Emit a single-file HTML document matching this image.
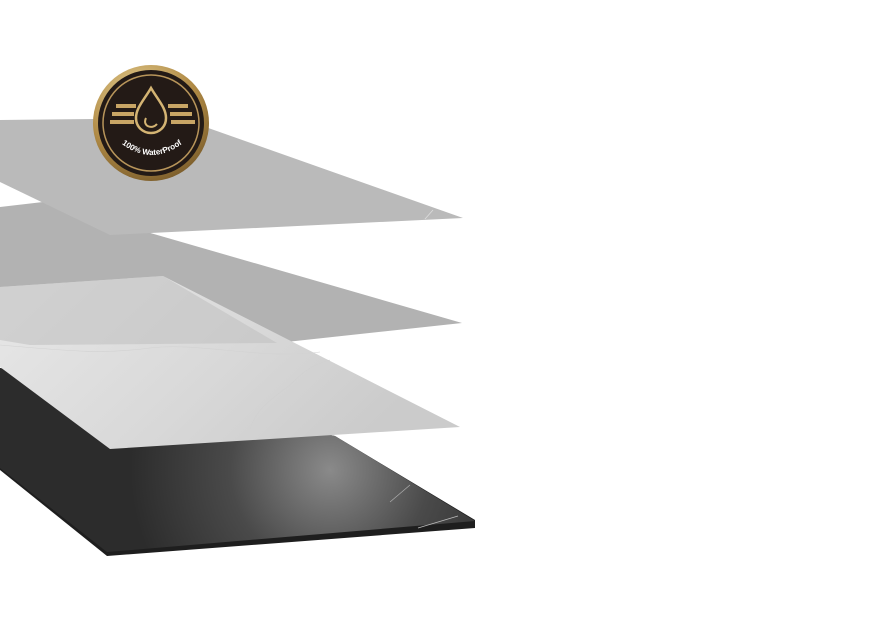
<!DOCTYPE html>
<html><head><style>body{margin:0;background:#fff;width:873px;height:634px;overflow:hidden}</style></head><body>
<svg width="873" height="634" viewBox="0 0 873 634" xmlns="http://www.w3.org/2000/svg">
<defs>
<radialGradient id="dk" cx="330" cy="470" r="200" gradientUnits="userSpaceOnUse">
<stop offset="0" stop-color="#8a8a8a"/><stop offset="0.5" stop-color="#4a4a4a"/><stop offset="1" stop-color="#2c2c2c"/></radialGradient>
<linearGradient id="mb" x1="0" y1="0" x2="1" y2="0.4">
<stop offset="0" stop-color="#e8e8e8"/><stop offset="0.6" stop-color="#d8d8d8"/><stop offset="1" stop-color="#cbcbcb"/></linearGradient>
<radialGradient id="gold" cx="0.4" cy="0.3" r="0.8"><stop offset="0" stop-color="#f0dca0"/><stop offset="0.6" stop-color="#b08a45"/><stop offset="1" stop-color="#6e5225"/></radialGradient>
</defs>
<polygon points="0,470 0,368 335,436 475,520 475,528 107,556" fill="#1e1e1e"/>
<polygon points="0,468 0,368 335,436 475,521 107,552" fill="url(#dk)"/>
<line x1="390" y1="502" x2="410" y2="485" stroke="#aaa" stroke-width="0.8"/>
<line x1="418" y1="528" x2="458" y2="516" stroke="#bbb" stroke-width="0.8"/>
<polygon points="0,207 43,202 462,323 277,343 0,350" fill="#b2b2b2"/>
<polygon points="0,287 163,276 460,427 110,449 0,367" fill="url(#mb)"/>
<polygon points="0,287 163,276 277,343 30,345 0,340" fill="#c2c2c2" opacity="0.6"/>
<path d="M0,345 C60,350 100,355 150,348 C200,342 260,360 320,352" stroke="#d2d2d2" fill="none" stroke-width="0.6"/>
<path d="M250,430 C255,410 270,400 290,385 C300,375 310,365 330,360" stroke="#d0d0d0" fill="none" stroke-width="0.6"/>
<polygon points="0,120 180,118 463,218 110,235 0,182" fill="#bababa"/>
<line x1="425" y1="219" x2="433" y2="210" stroke="#ddd" stroke-width="0.8"/>
<circle cx="151" cy="123" r="58" fill="url(#gold)"/>
<circle cx="151" cy="123" r="53" fill="#231a16"/>
<circle cx="151" cy="123" r="48" fill="none" stroke="#b8955a" stroke-width="1.5"/>
<path d="M151,88 C144,100 136,108 136,118 C136,127 143,133 151,133 C159,133 166,127 166,118 C166,108 158,100 151,88 Z" fill="none" stroke="#d4b473" stroke-width="2.5"/>
<path d="M146,118 C142,126 152,130 157,124" fill="none" stroke="#d4b473" stroke-width="2"/>
<g fill="#c8a565"><rect x="116" y="104" width="20" height="4"/><rect x="112" y="112" width="22" height="4"/><rect x="110" y="120" width="24" height="4"/>
<rect x="168" y="104" width="20" height="4"/><rect x="170" y="112" width="22" height="4"/><rect x="171" y="120" width="24" height="4"/></g>
<path id="arc" d="M117,140 Q151,170 187,140" fill="none"/>
<text font-family="Liberation Sans, sans-serif" font-size="8" font-weight="bold" fill="#fff"><textPath href="#arc" startOffset="50%" text-anchor="middle">100% WaterProof</textPath></text>
</svg>
</body></html>
